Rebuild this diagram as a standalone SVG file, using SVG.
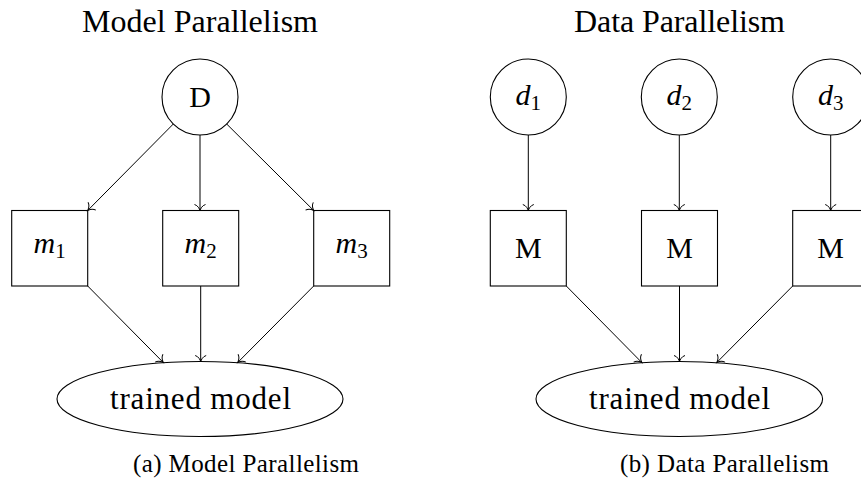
<svg xmlns="http://www.w3.org/2000/svg" width="861" height="480" viewBox="0 0 861 480">
<defs>
<style>
text{font-family:"Liberation Serif","DejaVu Serif",serif;fill:#000}
.t{font-size:32px;text-anchor:middle}
.cap{font-size:25px;text-anchor:middle}
.lbl{font-size:30px;text-anchor:middle}
.tm{font-size:31px;text-anchor:middle}
.it{font-style:italic}
.sub{font-size:21px;font-style:normal}
.shape{fill:#fff;stroke:#000;stroke-width:1.1}
.edge{fill:none;stroke:#000;stroke-width:1;marker-end:url(#to)}
</style>
<marker id="to" markerUnits="userSpaceOnUse" markerWidth="14" markerHeight="14" viewBox="-8 -7 10 14" refX="0" refY="0" orient="auto" overflow="visible">
<path d="M-6,-5.5 C-5,-2 -1.5,-0.5 0,0 C-1.5,0.5 -5,2 -6,5.5" fill="none" stroke="#000" stroke-width="1"/>
</marker>
</defs>
<rect width="861" height="480" fill="#fff"/>

<text class="t" x="200" y="32" textLength="236">Model Parallelism</text>
<text class="t" x="679.5" y="32" textLength="211">Data Parallelism</text>

<g id="D"><circle class="shape" cx="200" cy="97" r="38"/><text class="lbl" x="200" y="107">D</text></g>
<g id="m1"><rect class="shape" x="11.7" y="210.5" width="76" height="75.5"/><text class="lbl" x="49.7" y="252.5"><tspan class="it">m</tspan><tspan class="sub" dy="5">1</tspan></text></g>
<g id="m2"><rect class="shape" x="162.7" y="210.5" width="76" height="75.5"/><text class="lbl" x="200.7" y="252.5"><tspan class="it">m</tspan><tspan class="sub" dy="5">2</tspan></text></g>
<g id="m3"><rect class="shape" x="313.7" y="210.5" width="76" height="75.5"/><text class="lbl" x="351.7" y="252.5"><tspan class="it">m</tspan><tspan class="sub" dy="5">3</tspan></text></g>
<g id="tmA"><ellipse class="shape" cx="200" cy="399" rx="143" ry="37.5"/><text class="tm" x="200.5" y="409" textLength="181">trained model</text></g>

<g id="d1"><circle class="shape" cx="528.3" cy="97" r="38"/><text class="lbl" x="528.3" y="105"><tspan class="it">d</tspan><tspan class="sub" dy="5">1</tspan></text></g>
<g id="d2"><circle class="shape" cx="679.3" cy="97" r="38"/><text class="lbl" x="679.3" y="105"><tspan class="it">d</tspan><tspan class="sub" dy="5">2</tspan></text></g>
<g id="d3"><circle class="shape" cx="830.7" cy="97" r="38"/><text class="lbl" x="830.7" y="105"><tspan class="it">d</tspan><tspan class="sub" dy="5">3</tspan></text></g>
<g id="M1"><rect class="shape" x="490.3" y="210.5" width="76" height="75.5"/><text class="lbl" x="528.3" y="258">M</text></g>
<g id="M2"><rect class="shape" x="641.5" y="210.5" width="76" height="75.5"/><text class="lbl" x="679.5" y="258">M</text></g>
<g id="M3"><rect class="shape" x="792.7" y="210.5" width="76" height="75.5"/><text class="lbl" x="830.7" y="258">M</text></g>
<g id="tmB"><ellipse class="shape" cx="679.3" cy="399" rx="143.3" ry="37.5"/><text class="tm" x="679.5" y="409" textLength="181">trained model</text></g>

<g id="connectors">
<path class="edge" d="M173.3,124 L87.7,210.5"/>
<path class="edge" d="M200,135 L200,210.5"/>
<path class="edge" d="M226.7,124 L313.7,210.5"/>
<path class="edge" d="M87.7,286 L163.3,362.5"/>
<path class="edge" d="M200.7,286 L200.7,361.5"/>
<path class="edge" d="M313.7,286 L237.7,362.5"/>
<path class="edge" d="M528.3,135 L528.3,210.5"/>
<path class="edge" d="M679.3,135 L679.3,210.5"/>
<path class="edge" d="M830.7,135 L830.7,210.5"/>
<path class="edge" d="M566.3,286 L641.8,362.5"/>
<path class="edge" d="M679.5,286 L679.5,361.5"/>
<path class="edge" d="M792.7,286 L716.8,362.5"/>
</g>

<text class="cap" x="246" y="472" textLength="226">(a) Model Parallelism</text>
<text class="cap" x="724.5" y="472" textLength="209">(b) Data Parallelism</text>
</svg>
